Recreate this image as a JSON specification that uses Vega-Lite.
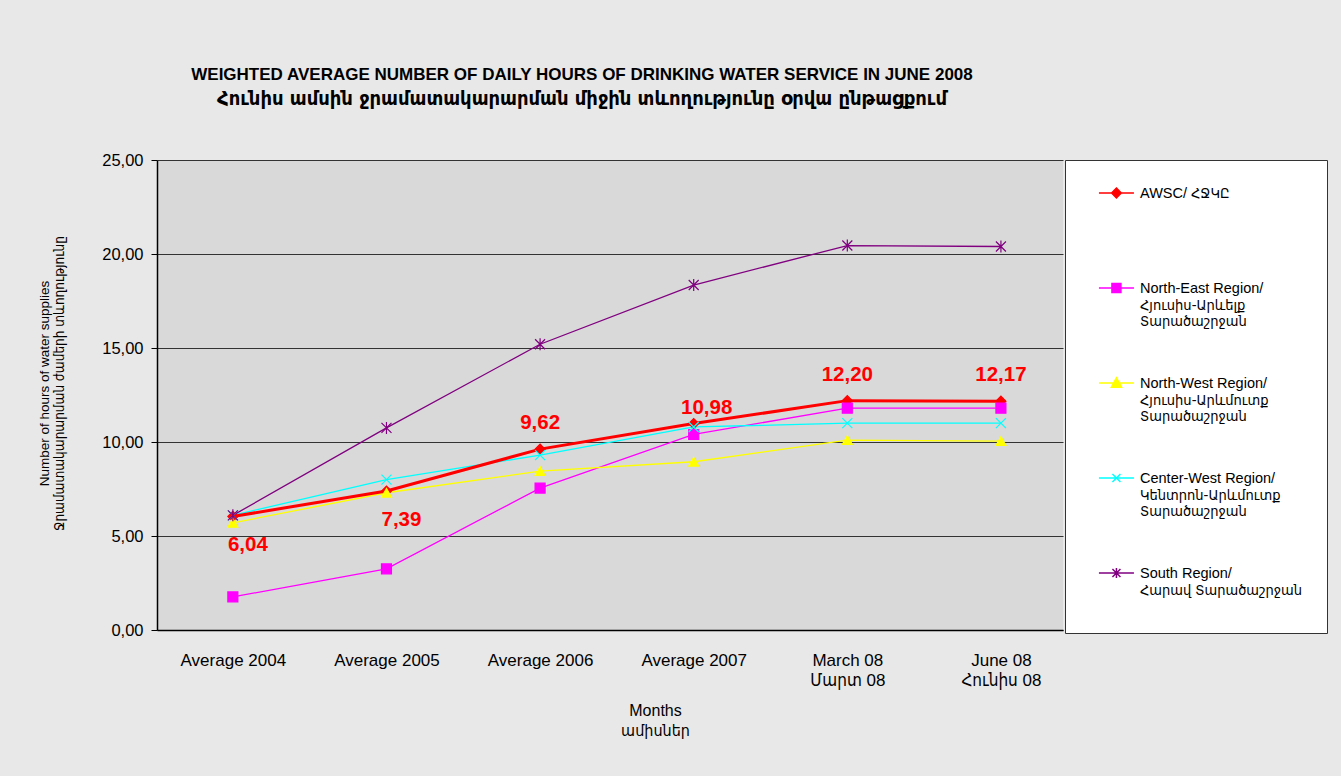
{
  "$schema": "https://vega.github.io/schema/vega-lite/v6.json",
  "width": 906,
  "height": 470,
  "autosize": {"type": "none"},
  "padding": {"left": 157, "top": 160, "right": 278, "bottom": 146},
  "background": "#e8e8e8",
  "config": {
    "locale": {"number": {"decimal": ",", "thousands": ".", "grouping": [3], "currency": ["", ""]}},
    "view": {"fill": "#d9d9d9", "stroke": null},
    "font": "Liberation Sans, DejaVu Sans Condensed, DejaVu Sans"
  },
  "title": {
    "text": "WEIGHTED AVERAGE NUMBER OF DAILY HOURS OF DRINKING  WATER SERVICE IN JUNE 2008",
    "subtitle": "Հունիս ամսին ջրամատակարարման միջին տևողությունը օրվա ընթացքում",
    "anchor": "middle",
    "dx": -28,
    "offset": 42,
    "font": "Liberation Sans, DejaVu Sans Condensed, DejaVu Sans",
    "fontSize": 17,
    "fontWeight": "bold",
    "color": "#000000",
    "subtitleFont": "DejaVu Sans Condensed, DejaVu Sans",
    "subtitleFontSize": 20,
    "subtitleFontWeight": "bold",
    "subtitleColor": "#000000",
    "subtitlePadding": 5
  },
  "data": {
    "values": [
      {"month": "Average 2004", "series": "AWSC/ ՀՋԿԸ", "value": 6.04},
      {"month": "Average 2005", "series": "AWSC/ ՀՋԿԸ", "value": 7.39},
      {"month": "Average 2006", "series": "AWSC/ ՀՋԿԸ", "value": 9.62},
      {"month": "Average 2007", "series": "AWSC/ ՀՋԿԸ", "value": 10.98},
      {"month": "March 08|Մարտ 08", "series": "AWSC/ ՀՋԿԸ", "value": 12.20},
      {"month": "June 08|Հունիս 08", "series": "AWSC/ ՀՋԿԸ", "value": 12.17},
      {"month": "Average 2004", "series": "North-East Region/|Հյուսիս-Արևելք|Տարածաշրջան", "value": 1.76},
      {"month": "Average 2005", "series": "North-East Region/|Հյուսիս-Արևելք|Տարածաշրջան", "value": 3.25},
      {"month": "Average 2006", "series": "North-East Region/|Հյուսիս-Արևելք|Տարածաշրջան", "value": 7.55},
      {"month": "Average 2007", "series": "North-East Region/|Հյուսիս-Արևելք|Տարածաշրջան", "value": 10.4},
      {"month": "March 08|Մարտ 08", "series": "North-East Region/|Հյուսիս-Արևելք|Տարածաշրջան", "value": 11.8},
      {"month": "June 08|Հունիս 08", "series": "North-East Region/|Հյուսիս-Արևելք|Տարածաշրջան", "value": 11.8},
      {"month": "Average 2004", "series": "North-West Region/|Հյուսիս-Արևմուտք|Տարածաշրջան", "value": 5.7},
      {"month": "Average 2005", "series": "North-West Region/|Հյուսիս-Արևմուտք|Տարածաշրջան", "value": 7.3},
      {"month": "Average 2006", "series": "North-West Region/|Հյուսիս-Արևմուտք|Տարածաշրջան", "value": 8.45},
      {"month": "Average 2007", "series": "North-West Region/|Հյուսիս-Արևմուտք|Տարածաշրջան", "value": 8.95},
      {"month": "March 08|Մարտ 08", "series": "North-West Region/|Հյուսիս-Արևմուտք|Տարածաշրջան", "value": 10.1},
      {"month": "June 08|Հունիս 08", "series": "North-West Region/|Հյուսիս-Արևմուտք|Տարածաշրջան", "value": 10.05},
      {"month": "Average 2004", "series": "Center-West Region/|Կենտրոն-Արևմուտք|Տարածաշրջան", "value": 6.1},
      {"month": "Average 2005", "series": "Center-West Region/|Կենտրոն-Արևմուտք|Տարածաշրջան", "value": 8.0},
      {"month": "Average 2006", "series": "Center-West Region/|Կենտրոն-Արևմուտք|Տարածաշրջան", "value": 9.3},
      {"month": "Average 2007", "series": "Center-West Region/|Կենտրոն-Արևմուտք|Տարածաշրջան", "value": 10.8},
      {"month": "March 08|Մարտ 08", "series": "Center-West Region/|Կենտրոն-Արևմուտք|Տարածաշրջան", "value": 11.0},
      {"month": "June 08|Հունիս 08", "series": "Center-West Region/|Կենտրոն-Արևմուտք|Տարածաշրջան", "value": 11.0},
      {"month": "Average 2004", "series": "South Region/|Հարավ Տարածաշրջան", "value": 6.1},
      {"month": "Average 2005", "series": "South Region/|Հարավ Տարածաշրջան", "value": 10.75},
      {"month": "Average 2006", "series": "South Region/|Հարավ Տարածաշրջան", "value": 15.2},
      {"month": "Average 2007", "series": "South Region/|Հարավ Տարածաշրջան", "value": 18.35},
      {"month": "March 08|Մարտ 08", "series": "South Region/|Հարավ Տարածաշրջան", "value": 20.45},
      {"month": "June 08|Հունիս 08", "series": "South Region/|Հարավ Տարածաշրջան", "value": 20.4}
    ]
  },
  "encoding": {
    "x": {
      "field": "month",
      "type": "nominal",
      "sort": ["Average 2004", "Average 2005", "Average 2006", "Average 2007", "March 08|Մարտ 08", "June 08|Հունիս 08"],
      "scale": {"type": "point", "padding": 0.449, "align": 0.55},
      "axis": {
        "labelAngle": 0,
        "labelExpr": "split(datum.label, '|')",
        "labelFont": "Liberation Sans, DejaVu Sans Condensed, DejaVu Sans",
        "labelFontSize": 17,
        "labelColor": "#000000",
        "labelLineHeight": 20,
        "labelPadding": 22,
        "labelBaseline": "top",
        "ticks": false,
        "domain": true,
        "domainColor": "#000000",
        "domainWidth": 1.5,
        "grid": false,
        "title": ["Months", "ամիսներ"],
        "titleFont": "Liberation Sans, DejaVu Sans Condensed, DejaVu Sans",
        "titleFontSize": 16,
        "titleFontWeight": "normal",
        "titleColor": "#000000",
        "titleLineHeight": 20,
        "titlePadding": 14,
        "titleX": 498
      }
    },
    "y": {
      "field": "value",
      "type": "quantitative",
      "scale": {"domain": [0, 25], "nice": false},
      "axis": {
        "values": [0, 5, 10, 15, 20, 25],
        "format": ".2f",
        "labelFont": "Liberation Sans, DejaVu Sans",
        "labelFontSize": 16.5,
        "labelColor": "#000000",
        "labelPadding": 8,
        "tickSize": 6,
        "tickColor": "#000000",
        "domain": true,
        "domainColor": "#000000",
        "domainWidth": 1.5,
        "grid": true,
        "gridColor": "#333333",
        "gridWidth": 1.2,
        "title": ["Number of hours of water supplies", "Ջրամատակարարման ժամերի տևողությունը"],
        "titleFont": "Liberation Sans, DejaVu Sans Condensed, DejaVu Sans",
        "titleFontSize": 13.5,
        "titleFontWeight": "normal",
        "titleColor": "#000000",
        "titleLineHeight": 15,
        "titlePadding": 35,
        "titleY": 223
      }
    }
  },
  "layer": [
    {
      "transform": [{"filter": "datum.series != 'AWSC/ ՀՋԿԸ'"}],
      "mark": {"type": "line", "strokeWidth": 1.3},
      "encoding": {
        "color": {
          "field": "series", "type": "nominal", "legend": null,
          "scale": {
            "domain": ["North-East Region/|Հյուսիս-Արևելք|Տարածաշրջան", "North-West Region/|Հյուսիս-Արևմուտք|Տարածաշրջան", "Center-West Region/|Կենտրոն-Արևմուտք|Տարածաշրջան", "South Region/|Հարավ Տարածաշրջան"],
            "range": ["#ff00ff", "#ffff00", "#00ffff", "#800080"]
          }
        }
      }
    },
    {
      "transform": [{"filter": "datum.series == 'AWSC/ ՀՋԿԸ'"}],
      "mark": {"type": "line", "strokeWidth": 3, "color": "#ff0000"},
      "encoding": {}
    },
    {
      "mark": {"type": "point", "filled": true, "size": 100, "strokeWidth": 1.2, "opacity": 1},
      "encoding": {
        "shape": {
          "field": "series", "type": "nominal", "legend": null,
          "scale": {
            "domain": ["AWSC/ ՀՋԿԸ", "North-East Region/|Հյուսիս-Արևելք|Տարածաշրջան", "North-West Region/|Հյուսիս-Արևմուտք|Տարածաշրջան", "Center-West Region/|Կենտրոն-Արևմուտք|Տարածաշրջան", "South Region/|Հարավ Տարածաշրջան"],
            "range": ["diamond", "square", "triangle-up", "M-1,-1L1,1M-1,1L1,-1", "M-1,-1L1,1M-1,1L1,-1M0,-1.2V1.2"]
          }
        },
        "fill": {
          "field": "series", "type": "nominal", "legend": null,
          "scale": {
            "domain": ["AWSC/ ՀՋԿԸ", "North-East Region/|Հյուսիս-Արևելք|Տարածաշրջան", "North-West Region/|Հյուսիս-Արևմուտք|Տարածաշրջան", "Center-West Region/|Կենտրոն-Արևմուտք|Տարածաշրջան", "South Region/|Հարավ Տարածաշրջան"],
            "range": ["#ff0000", "#ff00ff", "#ffff00", "#00ffff", "#800080"]
          }
        },
        "stroke": {
          "field": "series", "type": "nominal", "legend": null,
          "scale": {
            "domain": ["AWSC/ ՀՋԿԸ", "North-East Region/|Հյուսիս-Արևելք|Տարածաշրջան", "North-West Region/|Հյուսիս-Արևմուտք|Տարածաշրջան", "Center-West Region/|Կենտրոն-Արևմուտք|Տարածաշրջան", "South Region/|Հարավ Տարածաշրջան"],
            "range": ["#ff0000", "#ff00ff", "#ffff00", "#00ffff", "#800080"]
          }
        }
      }
    },
    {
      "mark": {"type": "point", "filled": true, "size": 4096, "opacity": 0, "strokeWidth": 1.5},
      "encoding": {
        "shape": {
          "field": "series", "type": "nominal",
          "scale": {
            "domain": ["AWSC/ ՀՋԿԸ", "North-East Region/|Հյուսիս-Արևելք|Տարածաշրջան", "North-West Region/|Հյուսիս-Արևմուտք|Տարածաշրջան", "Center-West Region/|Կենտրոն-Արևմուտք|Տարածաշրջան", "South Region/|Հարավ Տարածաշրջան"],
            "range": [
              "M-0.127,-0.156H0.967M0.42,-0.31L0.57,-0.156L0.42,-0.002L0.27,-0.156ZM0.42,1.15L0.42,1.15",
              "M-0.127,-0.156H0.967M0.28,-0.296H0.56V-0.016H0.28ZM0.42,1.15L0.42,1.15",
              "M-0.127,-0.156H0.967M0.42,-0.32L0.58,-0.02H0.26ZM0.42,1.15L0.42,1.15",
              "M-0.127,-0.156H0.967M0.295,-0.281L0.545,-0.031M0.295,-0.031L0.545,-0.281M0.42,1.15L0.42,1.15",
              "M-0.127,-0.156H0.967M0.295,-0.281L0.545,-0.031M0.295,-0.031L0.545,-0.281M0.42,-0.31V-0.002M0.42,1.44L0.42,1.44"
            ]
          },
          "legend": {
            "orient": "none", "legendX": 908, "legendY": 0,
            "title": " ", "titleOrient": "right", "titlePadding": 20, "titleFontSize": 10,
            "fillColor": "#ffffff", "strokeColor": "#333333", "padding": 5,
            "rowPadding": 22,
            "labelFont": "Liberation Sans, DejaVu Sans Condensed, DejaVu Sans", "labelFontSize": 14.5, "labelColor": "#000000",
            "labelBaseline": "alphabetic", "labelOffset": 4, "labelLimit": 400,
            "labelExpr": "split(datum.label, '|')",
            "symbolStrokeWidth": 1.5, "symbolOpacity": 1, "symbolSize": 4096
          }
        },
        "color": {
          "field": "series", "type": "nominal",
          "scale": {
            "domain": ["AWSC/ ՀՋԿԸ", "North-East Region/|Հյուսիս-Արևելք|Տարածաշրջան", "North-West Region/|Հյուսիս-Արևմուտք|Տարածաշրջան", "Center-West Region/|Կենտրոն-Արևմուտք|Տարածաշրջան", "South Region/|Հարավ Տարածաշրջան"],
            "range": ["#ff0000", "#ff00ff", "#ffff00", "#00ffff", "#800080"]
          }
        },
        "stroke": {
          "field": "series", "type": "nominal",
          "scale": {
            "domain": ["AWSC/ ՀՋԿԸ", "North-East Region/|Հյուսիս-Արևելք|Տարածաշրջան", "North-West Region/|Հյուսիս-Արևմուտք|Տարածաշրջան", "Center-West Region/|Կենտրոն-Արևմուտք|Տարածաշրջան", "South Region/|Հարավ Տարածաշրջան"],
            "range": ["#ff0000", "#ff00ff", "#ffff00", "#00ffff", "#800080"]
          }
        }
      }
    },
    {
      "transform": [{"filter": "datum.series == 'AWSC/ ՀՋԿԸ' && (datum.month == 'Average 2004' || datum.month == 'Average 2005')"}],
      "mark": {"type": "text", "fontSize": 20.5, "fontWeight": "bold", "color": "#ff0000", "dx": 15, "dy": 29, "font": "Liberation Sans, DejaVu Sans"},
      "encoding": {"text": {"field": "value", "type": "quantitative", "format": ".2f"}}
    },
    {
      "transform": [{"filter": "datum.series == 'AWSC/ ՀՋԿԸ' && datum.month == 'Average 2007'"}],
      "mark": {"type": "text", "fontSize": 20.5, "fontWeight": "bold", "color": "#ff0000", "dx": 13, "dy": -16, "font": "Liberation Sans, DejaVu Sans"},
      "encoding": {"text": {"field": "value", "type": "quantitative", "format": ".2f"}}
    },
    {
      "transform": [{"filter": "datum.series == 'AWSC/ ՀՋԿԸ' && datum.month != 'Average 2004' && datum.month != 'Average 2005' && datum.month != 'Average 2007'"}],
      "mark": {"type": "text", "fontSize": 20.5, "fontWeight": "bold", "color": "#ff0000", "dy": -26, "font": "Liberation Sans, DejaVu Sans"},
      "encoding": {"text": {"field": "value", "type": "quantitative", "format": ".2f"}}
    }
  ],
  "resolve": {"scale": {"color": "independent", "shape": "independent", "fill": "independent", "stroke": "independent"}}
}
